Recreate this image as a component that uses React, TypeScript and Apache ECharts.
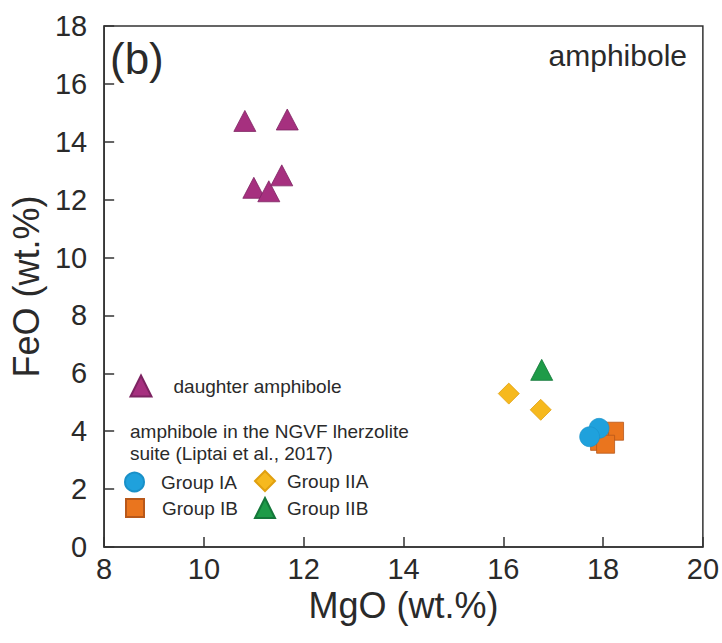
import React, { useEffect, useRef } from "react";
import * as echarts from "echarts";

const FONT = "'Liberation Sans', Arial, Helvetica, sans-serif";

// MgO (x) and FeO (y) values, wt.%
const daughterMgO = [10.82, 11.67, 11.0, 11.3, 11.56];
const daughterFeO = [14.72, 14.77, 12.41, 12.29, 12.84];

const groupIAMgO = [17.92, 17.73];
const groupIAFeO = [4.1, 3.81];

const groupIBMgO = [18.23, 17.93, 18.05];
const groupIBFeO = [4.0, 3.65, 3.55];

const groupIIAMgO = [16.11, 16.75];
const groupIIAFeO = [5.3, 4.74];

const groupIIBMgO = [16.77];
const groupIIBFeO = [6.12];

const xTicks = [8, 10, 12, 14, 16, 18, 20];
const yTicks = [0, 2, 4, 6, 8, 10, 12, 14, 16, 18];

const zip = (xs: number[], ys: number[]) => xs.map((x, i) => [x, ys[i]]);

export default function App() {
  const ref = useRef<HTMLDivElement>(null);

  useEffect(() => {
    if (!ref.current) return;
    const chart = echarts.init(ref.current, undefined, { renderer: "svg" });

    const legendBase = (name: string, icon: string, left: number, top: number, size: number, pad: number) => ({
      data: [{ name, icon }],
      left,
      top,
      orient: "horizontal",
      padding: 0,
      itemWidth: size,
      itemHeight: size,
      selectedMode: false,
      textStyle: { fontSize: 19, color: "#2a2a2a", fontFamily: FONT, padding: [0, 0, 0, pad] },
    });

    chart.setOption({
      animation: false,
      backgroundColor: "#ffffff",
      textStyle: { fontFamily: FONT },
      grid: {
        left: 101,
        top: 26,
        width: 603,
        height: 521,
        show: true,
        borderColor: "#333",
        borderWidth: 1.5,
        backgroundColor: "transparent",
      },
      xAxis: {
        type: "value",
        min: xTicks[0],
        max: xTicks[xTicks.length - 1],
        interval: 2,
        name: "MgO (wt.%)",
        nameLocation: "middle",
        nameGap: 31,
        nameTextStyle: { fontSize: 36, color: "#2a2a2a", fontFamily: FONT },
        axisLine: { show: true, lineStyle: { color: "#333", width: 1.5 } },
        axisTick: { show: true, inside: true, length: 10, lineStyle: { color: "#333", width: 1.5 } },
        axisLabel: { fontSize: 29, color: "#2a2a2a", margin: 7, fontFamily: FONT },
        splitLine: { show: false },
      },
      yAxis: {
        type: "value",
        min: yTicks[0],
        max: yTicks[yTicks.length - 1],
        interval: 2,
        name: "FeO (wt.%)",
        nameLocation: "middle",
        nameGap: 57,
        nameTextStyle: { fontSize: 36, color: "#2a2a2a", fontFamily: FONT },
        axisLine: { show: true, lineStyle: { color: "#333", width: 1.5 } },
        axisTick: { show: true, inside: true, length: 10, lineStyle: { color: "#333", width: 1.5 } },
        axisLabel: { fontSize: 29, color: "#2a2a2a", margin: 17, fontFamily: FONT },
        splitLine: { show: false },
      },
      legend: [
        legendBase("daughter amphibole", "triangle", 129.5, 374.5, 21, 17),
        legendBase("Group IA", "circle", 124, 471.5, 19, 12),
        legendBase("Group IB", "rect", 125, 498, 18, 13),
        legendBase("Group IIA", "diamond", 254, 470, 20, 7),
        legendBase("Group IIB", "triangle", 254, 497, 20, 7),
      ],
      graphic: [
        {
          type: "text",
          left: 110,
          top: 36,
          style: { text: "(b)", fontSize: 44, fill: "#2a2a2a", fontFamily: FONT },
        },
        {
          type: "text",
          right: 722 - 687,
          top: 40,
          style: { text: "amphibole", fontSize: 30, fill: "#2a2a2a", fontFamily: FONT },
        },
        {
          type: "text",
          left: 130,
          top: 421,
          style: {
            text: "amphibole in the NGVF lherzolite\nsuite (Liptai et al., 2017)",
            fontSize: 19,
            lineHeight: 21.6,
            fill: "#2a2a2a",
            fontFamily: FONT,
          },
        },
      ],
      series: [
        {
          name: "daughter amphibole",
          type: "scatter",
          symbol: "triangle",
          symbolSize: [22, 21],
          data: zip(daughterMgO, daughterFeO),
          itemStyle: { color: "#A6307F", borderColor: "#7d2462", borderWidth: 0.8, opacity: 1 },
          z: 2,
        },
        {
          name: "Group IIA",
          type: "scatter",
          symbol: "diamond",
          symbolSize: 21,
          data: zip(groupIIAMgO, groupIIAFeO),
          itemStyle: { color: "#F6B91E", borderColor: "#e0a010", borderWidth: 0.8, opacity: 1 },
          z: 3,
        },
        {
          name: "Group IIB",
          type: "scatter",
          symbol: "triangle",
          symbolSize: [22, 21],
          data: zip(groupIIBMgO, groupIIBFeO),
          itemStyle: { color: "#1E9B48", borderColor: "#14773a", borderWidth: 0.8, opacity: 1 },
          z: 3,
        },
        {
          name: "Group IB",
          type: "scatter",
          symbol: "rect",
          symbolSize: 18,
          data: zip(groupIBMgO, groupIBFeO),
          itemStyle: { color: "#EA751E", borderColor: "#b8581a", borderWidth: 0.8, opacity: 1 },
          z: 4,
        },
        {
          name: "Group IA",
          type: "scatter",
          symbol: "circle",
          symbolSize: 20,
          data: zip(groupIAMgO, groupIAFeO),
          itemStyle: { color: "#1FA1DC", borderColor: "#1990c8", borderWidth: 0.6, opacity: 1 },
          z: 5,
        },
      ],
    });

    return () => chart.dispose();
  }, []);

  return (
    <div
      ref={ref}
      style={{ position: "fixed", left: 0, top: 0, width: 722, height: 643, background: "#fff" }}
    />
  );
}
